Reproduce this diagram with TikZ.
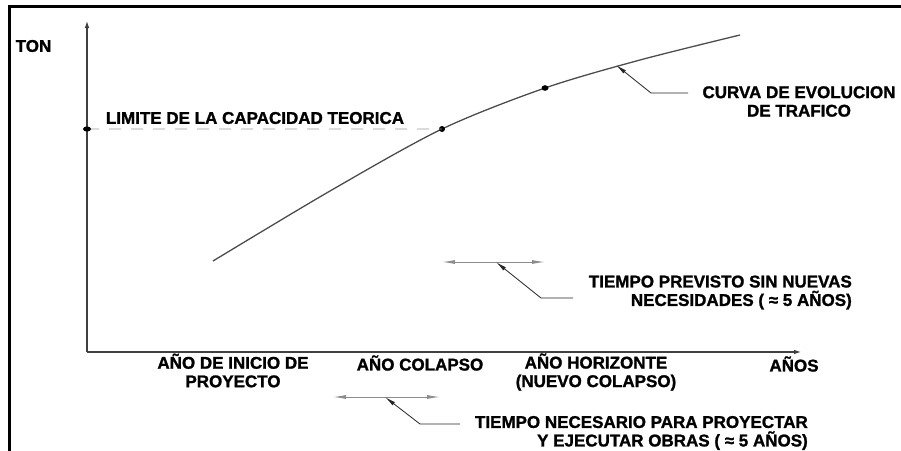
\documentclass[tikz,border=0pt]{standalone}
\usepackage{fontspec}
\setmainfont{Liberation Sans}[BoldFeatures={FakeBold=1.3}]
\usepackage{tikz}
\usetikzlibrary{arrows.meta}
\usetikzlibrary{intersections}

\begin{document}
\begin{tikzpicture}[x=1pt,y=-1pt,font=\fontsize{17}{18.5}\selectfont\bfseries,
        txt/.style={inner sep=0pt},
        eje/.style={line width=1.8pt,draw=black!75,-{Latex[length=8pt,width=4.5pt]}},
        cota/.style={draw=black!45,line width=1pt,{Latex[length=13pt,width=4pt]}-{Latex[length=13pt,width=4pt]}},
        guia/.style={draw=black!85,line width=0.8pt,{Latex[length=11pt,width=4pt]}-}]
        \useasboundingbox (0,0) rectangle (901,450);
        \draw[line width=3pt] (9,452) -- (9,6) -- (903,6);

        % ejes
        \coordinate (o) at (87,352);
        \draw[eje] (o) -- (87,20) coordinate (ytop);
        \draw[eje] (o) -- (802,352) coordinate (xfin);
        \node[txt] (ton) at (33.5,46) {TON};
        \node[txt] (anios) at (794,364) {AÑOS};

        \draw[name path=curva,line width=1.3pt,black!70] plot[smooth] coordinates {(213,261) (330,191) (442,129) (545,88) (640,60) (740,35)};
        \path[name path=limite] (87,129) coordinate (lim) -- (700,129);

        \fill [name intersections={of=curva and limite, name=c}]
            [black] (c-1) circle (3pt);
        \draw[dashed,black!40,line width=0.8pt,dash pattern=on 12pt off 10pt] (lim) -- (c-1);
        \fill[black] (lim) ellipse (4pt and 2.6pt);
        \coordinate (hor) at (545,88);
        \fill[black] (hor) ellipse (3.5pt and 2.8pt);
        \node[txt] (limtxt) at (255,118) {LIMITE DE LA CAPACIDAD TEORICA};

        % curva de trafico
        \coordinate (pc) at (616,65);
        \coordinate (qc) at (651,93);
        \coordinate (rc) at (688,93);
        \draw[guia] (pc) -- (qc) -- (rc);
        \node[txt,align=center] (curtxt) at (799,101.5) {CURVA DE EVOLUCION\\DE TRAFICO};

        % etiquetas del eje x
        \node[txt,align=center] (inicio) at (233,370.5) {AÑO DE INICIO DE\\PROYECTO};
        \node[txt] (colapso) at (420,363) {AÑO COLAPSO};
        \node[txt,align=center] (horiz) at (596,372) {AÑO HORIZONTE\\(NUEVO COLAPSO)};

        % tiempo previsto
        \draw[cota] (c-1 |- 0,262) coordinate (a1) -- (hor |- 0,262) coordinate (a2);
        \coordinate (pp) at (496,262);
        \coordinate (qp) at (541,298);
        \coordinate (rp) at (573,298);
        \draw[guia] (pp) -- (qp) -- (rp);
        \node[txt,align=right,anchor=east] (prevtxt) at (852,292.5) {TIEMPO PREVISTO SIN NUEVAS\\NECESIDADES ( ≈ 5 AÑOS)};

        % tiempo necesario
        \draw[cota] (333,397) coordinate (b1) -- (440,397) coordinate (b2);
        \coordinate (pn) at (385,397);
        \coordinate (qn) at (420,424);
        \coordinate (rn) at (460,424);
        \draw[guia] (pn) -- (qn) -- (rn);
        \node[txt,align=right,anchor=east] (necetxt) at (808,433) {TIEMPO NECESARIO PARA PROYECTAR\\Y EJECUTAR OBRAS ( ≈ 5 AÑOS)};
    \end{tikzpicture}
\end{document}
